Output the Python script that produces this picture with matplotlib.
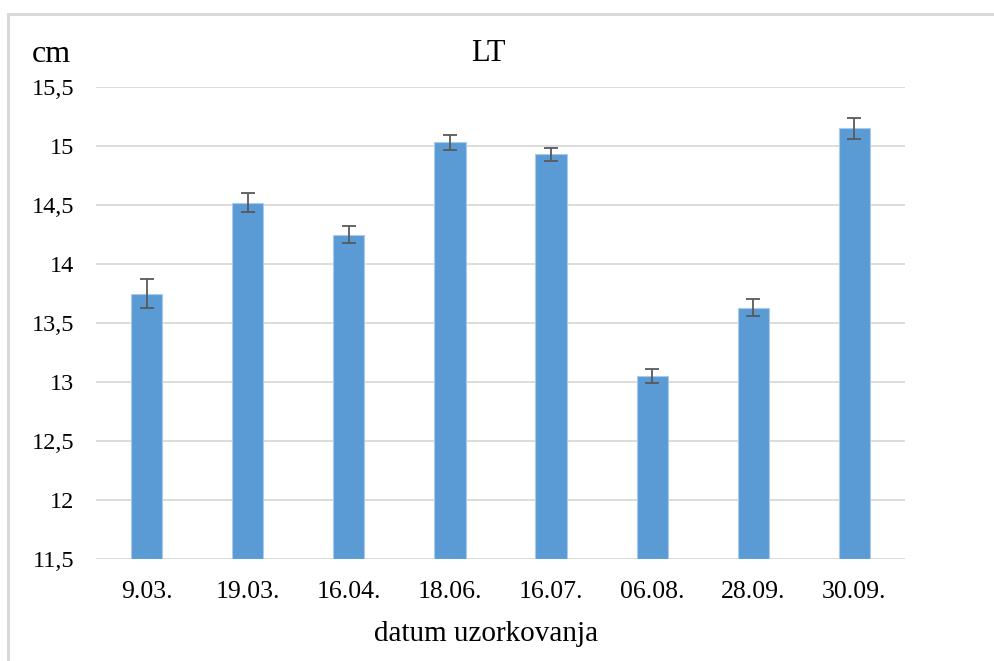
import matplotlib.pyplot as plt
from matplotlib.patches import Rectangle
from matplotlib.ticker import FuncFormatter
import numpy as np

dates = ['9.03.', '19.03.', '16.04.', '18.06.', '16.07.', '06.08.', '28.09.', '30.09.']
lt_mean = [13.75, 14.52, 14.25, 15.03, 14.93, 13.05, 13.63, 15.15]
lt_err = [0.12, 0.08, 0.075, 0.06, 0.055, 0.06, 0.07, 0.09]

plt.rcParams['font.family'] = ['Liberation Serif', 'DejaVu Serif']

fig = plt.figure(figsize=(9.95, 6.61), dpi=100)
W, H = 995, 661
ax = fig.add_axes([96 / W, 1 - 559 / H, (905 - 96) / W, (559 - 87) / H])

x = np.arange(len(dates))
ax.bar(x, [m - 11.5 for m in lt_mean], bottom=11.5, width=0.31,
       color='#5B9BD5', edgecolor='#A9CBEB', linewidth=0.8, zorder=2)
ax.errorbar(x, lt_mean, yerr=lt_err, fmt='none', ecolor='#595959',
            elinewidth=1.3, capsize=4.7, capthick=1.3, zorder=3)

ax.set_xlim(-0.5, len(dates) - 0.5)
ax.set_ylim(11.5, 15.5)
ax.set_yticks(np.arange(11.5, 15.51, 0.5))
ax.yaxis.set_major_formatter(FuncFormatter(lambda v, p: ('%g' % v).replace('.', ',')))
ax.set_xticks(x)
ax.set_xticklabels(dates, fontsize=18.5)
ax.tick_params(axis='y', labelsize=17.5, length=0, pad=15.5)
ax.tick_params(axis='x', length=0, pad=16)
ax.grid(axis='y', color='#d9d9d9', linewidth=1.3, zorder=0)
ax.set_axisbelow(True)
for s in ax.spines.values():
    s.set_visible(False)

fig.text(32 / W, 1 - 62 / H, 'cm', fontsize=23, ha='left', va='baseline')
fig.text(488 / W, 1 - 61 / H, 'LT', fontsize=22, ha='center', va='baseline')
fig.text(486 / W, 1 - 641 / H, 'datum uzorkovanja', fontsize=21, ha='center', va='baseline')

# outer chart frame
fig.patches.append(Rectangle((8 / W, -0.1), 1.2, 1.1 - 14 / H, transform=fig.transFigure,
                             fill=False, edgecolor='#d9d9d9', linewidth=2.2))

fig.savefig('out.png', dpi=100)
